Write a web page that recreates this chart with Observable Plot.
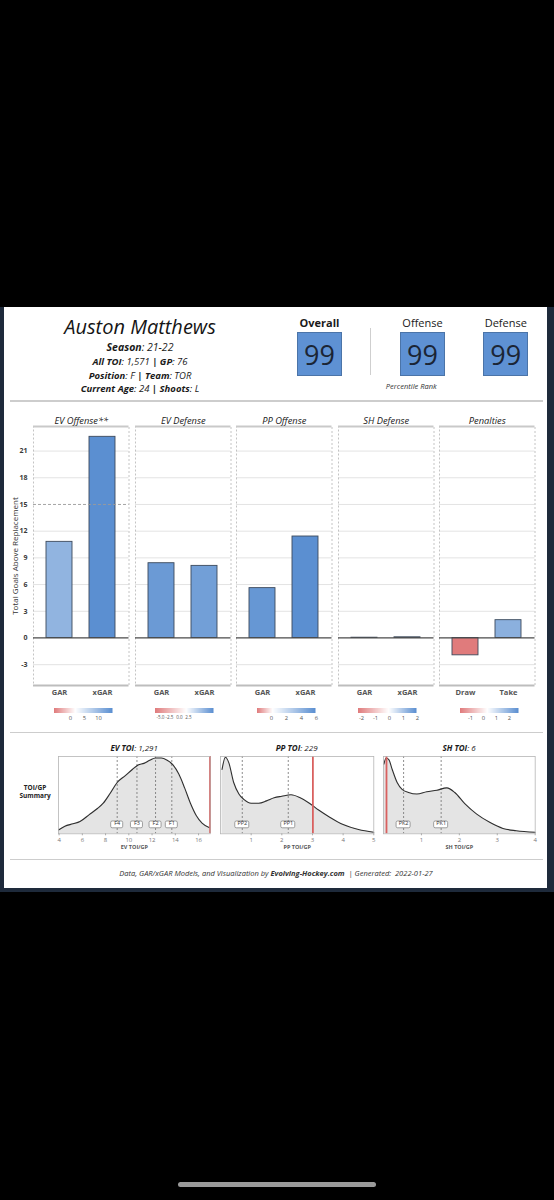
<!DOCTYPE html>
<html>
<head>
<meta charset="utf-8">
<script src="https://cdn.jsdelivr.net/npm/d3@7"></script>
<script src="https://cdn.jsdelivr.net/npm/@observablehq/plot@0.6"></script>
<style>
  html, body { margin: 0; padding: 0; background: #000; }
  #page { position: relative; width: 554px; height: 1200px; overflow: hidden; background: #000;
          font-family: "Open Sans", sans-serif; color: #1a1a1a; }
  .blk { position: absolute; }
  .lbl { position: absolute; transform: translate(-50%, -50%); white-space: nowrap; line-height: 1; }
  .lbl b { font-weight: 700; }
  .box { position: absolute; background: #5e91d3; border: 1px solid #4b74a8; box-sizing: border-box; }
  svg { max-width: none !important; overflow: visible; }
</style>
</head>
<body>
<div id="page"></div>
<script>
// ---- player card ----
const playerName = "Auston Matthews";
const season = "21-22";
const allToi = "1,571";
const gamesPlayed = 76;
const position = "F";
const team = "TOR";
const currentAge = 24;
const shoots = "L";
const rankLabels = ["Overall", "Offense", "Defense"];
const rankValues = [99, 99, 99];

// ---- GAR / xGAR panels ----
const panelTitles = ["EV Offense**", "EV Defense", "PP Offense", "SH Defense", "Penalties"];
const panelMetrics = [["GAR", "xGAR"], ["GAR", "xGAR"], ["GAR", "xGAR"], ["GAR", "xGAR"], ["Draw", "Take"]];
const panelValues = [[10.8, 22.6], [8.4, 8.1], [5.6, 11.4], [0.03, 0.08], [-1.95, 2.0]];
const legendDomains = [[-5.5, 15.1], [-6.3, 9.1], [-1.9, 6.0], [-2.2, 2.0], [-1.8, 2.7]];
const legendMidpoints = [2.0, 1.9, 0.2, 0.0, 0.3];
const legendTicks = [[0, 5, 10], [-5, -2.5, 0, 2.5], [0, 2, 4, 6], [-2, -1, 0, 1, 2], [-1, 0, 1, 2]];
const yTicks = [-3, 0, 3, 6, 9, 12, 15, 18, 21];
const yTitle = "Total Goals Above Replacement";
const evOffenseReference = 15;

// ---- TOI/GP distributions ----
const evToiTotal = 1291, ppToiTotal = 229, shToiTotal = 6;
const evToiX = [3.95, 4.5, 5.2, 5.8, 6.6, 7.3, 7.8, 8.4, 9.0, 9.7, 10.3, 10.8, 11.3, 11.8, 12.3, 12.8, 13.3, 13.8, 14.3, 14.8, 15.3, 15.8, 16.3, 16.95];
const evDensity = [0.05, 0.10, 0.13, 0.16, 0.25, 0.33, 0.40, 0.53, 0.67, 0.76, 0.84, 0.90, 0.92, 0.96, 0.99, 0.99, 0.96, 0.90, 0.78, 0.60, 0.40, 0.24, 0.14, 0.08];
const ppToiX = [0.05, 0.16, 0.27, 0.43, 0.6, 0.76, 1.0, 1.25, 1.5, 1.75, 2.0, 2.3, 2.6, 2.9, 3.2, 3.55, 4.0, 4.5, 5.0];
const ppDensity = [0.84, 1.0, 0.93, 0.67, 0.52, 0.45, 0.40, 0.40, 0.43, 0.47, 0.49, 0.51, 0.47, 0.40, 0.31, 0.22, 0.12, 0.055, 0.02];
const shToiX = [0.01, 0.07, 0.14, 0.23, 0.36, 0.49, 0.66, 0.88, 1.14, 1.41, 1.67, 1.88, 2.15, 2.45, 2.8, 3.15, 3.5, 4.0];
const shDensity = [0.91, 0.99, 0.97, 0.84, 0.67, 0.58, 0.54, 0.52, 0.55, 0.57, 0.60, 0.54, 0.39, 0.26, 0.15, 0.07, 0.04, 0.02];
const evLineNames = ["F4", "F3", "F2", "F1"];
const evLineToi = [9.0, 10.7, 12.3, 13.7];
const ppLineNames = ["PP2", "PP1"];
const ppLineToi = [0.71, 2.21];
const shLineNames = ["PK2", "PK1"];
const shLineToi = [0.53, 1.52];
const evTicks = [4, 6, 8, 10, 12, 14, 16];
const ppTicks = [1, 2, 3, 4, 5];
const shTicks = [1, 2, 3, 4];

const generated = "2022-01-27";

// ---------------------------------------------------------------
const page = document.getElementById("page");
const FONT = "'Open Sans', sans-serif";

function block(x, y, w, h, css) {
  const d = document.createElement("div");
  d.className = "blk";
  d.style.cssText = `left:${x}px;top:${y}px;width:${w}px;height:${h}px;${css}`;
  page.appendChild(d);
  return d;
}
function label(html, cx, cy, css) {
  const d = document.createElement("div");
  d.className = "lbl";
  d.style.cssText = `left:${cx}px;top:${cy}px;${css || ""}`;
  d.innerHTML = html;
  page.appendChild(d);
  return d;
}
function place(el, x, y) {
  const d = document.createElement("div");
  d.className = "blk";
  d.style.cssText = `left:${x}px;top:${y}px;`;
  d.appendChild(el);
  page.appendChild(d);
  return d;
}

// card background
block(0, 307, 554, 585, "background:#1e2a3b;");
block(4, 307, 543, 581, "background:#ffffff;");
// phone home indicator
block(178, 1182, 198, 5, "background:#9a9a9a;border-radius:3px;");

// header text
label(playerName, 140, 326.7, "font-size:20px;font-style:italic;color:#151515;");
label(`<b>Season</b>: ${season}`, 140, 346.7, "font-size:10.5px;font-style:italic;");
label(`<b>All TOI</b>: ${allToi} <b>|</b> <b>GP</b>: ${gamesPlayed}`, 140, 362.2, "font-size:9.5px;font-style:italic;");
label(`<b>Position</b>: ${position} <b>|</b> <b>Team</b>: ${team}`, 140, 375.6, "font-size:9.5px;font-style:italic;");
label(`<b>Current Age</b>: ${currentAge} <b>|</b> <b>Shoots</b>: ${shoots}`, 140, 388.6, "font-size:9.5px;font-style:italic;");

const rankCenters = [319.5, 422.5, 505.8];
rankLabels.forEach((r, i) => {
  label(r, rankCenters[i], 322, `font-size:11px;${i === 0 ? "font-weight:700;" : ""}color:#1a1a1a;`);
  const b = document.createElement("div");
  b.className = "box";
  b.style.cssText = `left:${rankCenters[i] - 22.5}px;top:332.3px;width:45px;height:43.7px;`;
  page.appendChild(b);
  label(String(rankValues[i]), rankCenters[i], 354.2, "font-size:27px;color:#1b2535;");
});
block(369.5, 328, 1, 47, "background:#cfcfcf;");
label("Percentile Rank", 411.3, 387.3, "font-size:7.5px;font-style:italic;color:#333;");

// section separators
block(10, 400, 533, 1.5, "background:#cdcdcd;");
block(10, 731.5, 533, 1.5, "background:#cdcdcd;");
block(10, 858.8, 533, 1.5, "background:#cdcdcd;");

// ---- GAR / xGAR bar panels ----
const lowColor = "#e07b7c", midColor = "#ffffff", highColor = "#5b8fd1";
function diverging(lo, mid, hi) {
  const tw = (mid - lo) / (hi - lo);
  const a = d3.interpolateRgb(lowColor, midColor);
  const b = d3.interpolateRgb(midColor, highColor);
  return t => (t < tw ? a(t / tw) : b((t - tw) / (1 - tw)));
}

const panelLefts = [33, 134.5, 236, 337.5, 439];
const panelWidth = 95.5;
const yDomain = [-5.34, 23.76];
const barSvgTop = 404;
const mTop = 22, frameH = 259, mBottom = 16;

panelTitles.forEach((title, i) => {
  const ml = i === 0 ? 33 : 0;
  const rows = panelMetrics[i].map((m, j) => ({metric: m, value: panelValues[i][j]}));
  const [lo, hi] = legendDomains[i];
  const colorOpts = {type: "linear", domain: [lo, hi], interpolate: diverging(lo, legendMidpoints[i], hi), clamp: true};

  const grid = yTicks.filter(v => v !== 0 && !(i === 0 && v === evOffenseReference));
  const marks = [
    Plot.ruleY(grid, {stroke: "#e3e3e3", strokeWidth: 1}),
    Plot.frame({stroke: "#b5b5b5", strokeDasharray: "2,2", strokeWidth: 0.8}),
    Plot.ruleY([yDomain[1]], {stroke: "#c9c9c9", strokeWidth: 2}),
    Plot.ruleY([yDomain[0]], {stroke: "#bdbdbd", strokeWidth: 2}),
    Plot.barY(rows, {x: "metric", y: "value", fill: "value", stroke: "#3d4a5c", strokeWidth: 0.9}),
    Plot.ruleY([0], {stroke: "#4a4a4a", strokeWidth: 1.2}),
    Plot.axisX({tickSize: 0, tickPadding: 4, fontWeight: "bold", fontSize: 7.5, fill: "#555", label: null}),
    Plot.text([title], {frameAnchor: "top", dy: -9.3, fontStyle: "italic", fontSize: 9.3, fill: "#222"})
  ];
  if (i === 0) {
    marks.push(
      Plot.ruleY([evOffenseReference], {stroke: "#9a9a9a", strokeDasharray: "3,2", strokeWidth: 0.9}),
      Plot.axisY(yTicks, {tickSize: 0, tickPadding: 6, fontWeight: "bold", fontSize: 7, fill: "#3a3a3a", label: null,
                          tickFormat: d => String(d)}),
      Plot.text([yTitle], {frameAnchor: "left", textAnchor: "middle", rotate: -90, dx: -18, fontSize: 8, fill: "#333"})
    );
  }

  const chart = Plot.plot({
    width: ml + panelWidth,
    height: mTop + frameH + mBottom,
    marginTop: mTop, marginBottom: mBottom, marginLeft: ml, marginRight: 0,
    style: {fontFamily: FONT, background: "transparent", overflow: "visible"},
    x: {domain: panelMetrics[i], paddingInner: 0.4, paddingOuter: 0.3, axis: null},
    y: {domain: yDomain, axis: null},
    color: colorOpts,
    marks
  });
  place(chart, panelLefts[i] - ml, barSvgTop);

  const legend = Plot.legend({
    color: colorOpts,
    width: 58.5, height: 18,
    marginTop: 0, marginBottom: 13, marginLeft: 0, marginRight: 0,
    ticks: legendTicks[i], tickSize: 0,
    tickFormat: i === 1 ? (d => d.toFixed(1)) : (d => String(d)),
    label: null,
    style: {fontSize: i === 1 ? "4.6px" : "5.8px", fontFamily: FONT, color: "#555", overflow: "visible", background: "transparent"}
  });
  legend.querySelectorAll(".tick line").forEach(l => l.remove());
  place(legend, panelLefts[i] + 20.8, 707.5);
});

// ---- TOI/GP distribution panels ----
label("<b>TOI/GP</b>", 35, 787.7, "font-size:6.5px;color:#222;");
label("<b>Summary</b>", 35, 795.7, "font-size:6.5px;color:#222;");

const toiPanels = [
  {name: "EV TOI", total: evToiTotal, xs: evToiX, ys: evDensity, domain: [3.95, 17.0], ticks: evTicks,
   lineToi: evLineToi, lineNames: evLineNames, boxW: 12, axis: "EV TOI/GP", left: 58.3, width: 151.7},
  {name: "PP TOI", total: ppToiTotal, xs: ppToiX, ys: ppDensity, domain: [0, 5], ticks: ppTicks,
   lineToi: ppLineToi, lineNames: ppLineNames, boxW: 14, axis: "PP TOI/GP", left: 220, width: 153.3},
  {name: "SH TOI", total: shToiTotal, xs: shToiX, ys: shDensity, domain: [0, 4], ticks: shTicks,
   lineToi: shLineToi, lineNames: shLineNames, boxW: 14, axis: "SH TOI/GP", left: 383.3, width: 151.7}
];

const dTop = 16, dFrame = 77.3, dBottom = 22;
toiPanels.forEach(p => {
  const pts = p.xs.map((x, k) => ({toi: x, density: p.ys[k]}));
  const lines = p.lineToi.map((v, k) => ({toi: v, name: p.lineNames[k]}));
  const perGame = p.total / gamesPlayed;
  const chart = Plot.plot({
    width: p.width,
    height: dTop + dFrame + dBottom,
    marginTop: dTop, marginBottom: dBottom, marginLeft: 0, marginRight: 0,
    style: {fontFamily: FONT, background: "transparent", overflow: "visible"},
    x: {domain: p.domain, axis: null},
    y: {domain: [0, 1.01], axis: null},
    marks: [
      Plot.areaY(pts, {x: "toi", y: "density", fill: "#e4e4e4", curve: "monotone-x"}),
      Plot.ruleX(lines, {x: "toi", stroke: "#6f6f6f", strokeDasharray: "2,2", strokeWidth: 0.8}),
      Plot.lineY(pts, {x: "toi", y: "density", stroke: "#2e2e2e", strokeWidth: 1.1, curve: "monotone-x"}),
      Plot.ruleX([perGame], {stroke: "#d9605f", strokeWidth: 1.8}),
      Plot.rect(lines, {x1: "toi", x2: "toi", insetLeft: -p.boxW / 2, insetRight: -p.boxW / 2,
                        insetTop: 65, insetBottom: 5.5, fill: "white", stroke: "#7a7a7a", strokeWidth: 0.7, rx: 1.5}),
      Plot.text(lines, {x: "toi", text: "name", frameAnchor: "bottom", dy: -8.9, fontSize: 5.5, fill: "#333"}),
      Plot.frame({stroke: "#b5b5b5", strokeWidth: 0.8}),
      Plot.axisX(p.ticks, {tickSize: 2, tickPadding: 2, fontSize: 6, fill: "#777", stroke: "#aaa", label: null,
                           tickFormat: d => String(d)}),
      Plot.text([p.axis], {frameAnchor: "bottom", dy: 15, fontWeight: "bold", fontSize: 5.5, fill: "#555"})
    ]
  });
  place(chart, p.left, 756 - dTop);
  label(`<b>${p.name}</b>: ${d3.format(",")(p.total)}`, p.left + p.width / 2, 747.7,
        "font-size:8px;font-style:italic;color:#1a1a1a;");
});

// footer
label(`Data, GAR/xGAR Models, and Visualization by <b>Evolving-Hockey.com</b> &nbsp;| Generated:&nbsp; ${generated}`,
      276, 873.7, "font-size:7.5px;font-style:italic;color:#333;");
</script>
</body>
</html>
